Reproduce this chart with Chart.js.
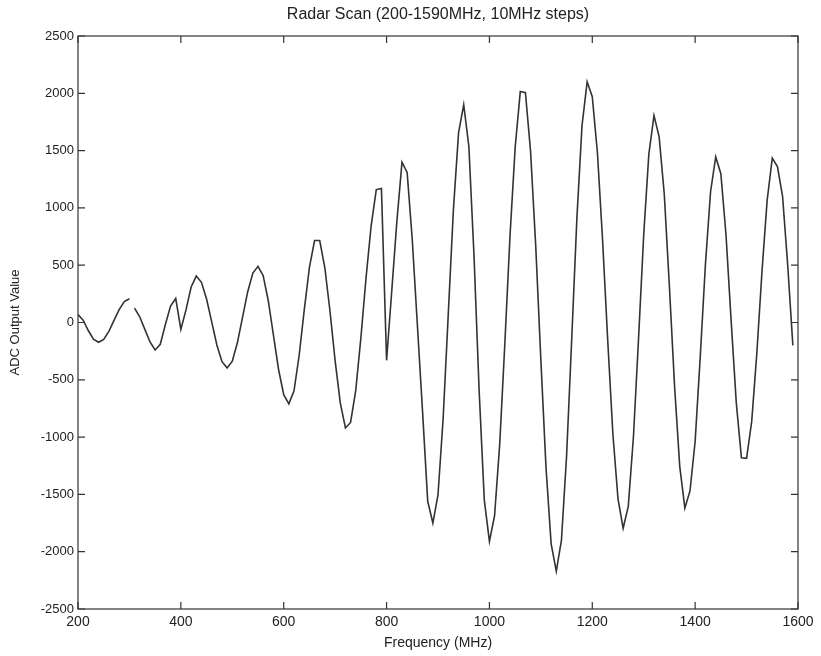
<!DOCTYPE html>
<html lang="en">
<head>
    <meta charset="UTF-8">
    <title>Radar Scan</title>
    <script src="https://cdn.jsdelivr.net/npm/chart.js"></script>
    <style>
        html, body { margin: 0; padding: 0; background: #fff; }
        #wrap { width: 821px; height: 656px; }
    </style>
</head>
<body>
    <div id="wrap"><canvas id="scanChart" width="821" height="656"></canvas></div>

    <script>
        // Scan frequencies (MHz), 10 MHz steps
        const freqs = [
            200, 210, 220, 230, 240, 250, 260, 270, 280, 290, 300, 310, 320, 330, 340, 350, 360, 370, 380, 390,
            400, 410, 420, 430, 440, 450, 460, 470, 480, 490, 500, 510, 520, 530, 540, 550, 560, 570, 580, 590,
            600, 610, 620, 630, 640, 650, 660, 670, 680, 690, 700, 710, 720, 730, 740, 750, 760, 770, 780, 790,
            800, 810, 820, 830, 840, 850, 860, 870, 880, 890, 900, 910, 920, 930, 940, 950, 960, 970, 980, 990,
            1000, 1010, 1020, 1030, 1040, 1050, 1060, 1070, 1080, 1090, 1100, 1110, 1120, 1130, 1140, 1150, 1160, 1170, 1180, 1190,
            1200, 1210, 1220, 1230, 1240, 1250, 1260, 1270, 1280, 1290, 1300, 1310, 1320, 1330, 1340, 1350, 1360, 1370, 1380, 1390,
            1400, 1410, 1420, 1430, 1440, 1450, 1460, 1470, 1480, 1490, 1500, 1510, 1520, 1530, 1540, 1550, 1560, 1570, 1580, 1590
        ];

        // ADC output, one row per 200 MHz
        const adcValues = [
            70, 20, -70, -145, -172, -147, -77, 18, 112, 182, 207, 125, 50, -60, -170, -240, -190, -15, 144, 210,
            -60, 110, 310, 405, 351, 205, 5, -196, -342, -396, -337, -175, 47, 269, 431, 490, 410, 190, -110, -410,
            -630, -710, -596, -288, 112, 481, 715, 715, 477, 98, -335, -702, -920, -872, -594, -136, 386, 844, 1160, 1170,
            -330, 270, 880, 1400, 1310, 720, -30, -780, -1560, -1750, -1505, -838, 75, 988, 1656, 1900, 1537, 585, -596, -1548,
            -1910, -1686, -1061, -181, 754, 1525, 2015, 2005, 1493, 670, -326, -1265, -1931, -2170, -1901, -1167, -146, 904, 1717, 2100,
            1971, 1481, 721, -155, -969, -1540, -1795, -1604, -999, -136, 766, 1471, 1805, 1620, 1119, 310, -555, -1253, -1620, -1470,
            -1036, -293, 508, 1141, 1445, 1298, 766, 14, -701, -1180, -1185, -863, -265, 447, 1066, 1435, 1360, 1100, 500, -200
        ];

        // the trace is broken between these two samples
        const gapFrom = [300];

        const xTicks = [200, 400, 600, 800, 1000, 1200, 1400, 1600];
        const yTicks = [-2500, -2000, -1500, -1000, -500, 0, 500, 1000, 1500, 2000, 2500];

        const ink = '#222';
        const font = 'Liberation Sans, Arial, Helvetica, sans-serif';

        // MATLAB-style box with inward ticks on all four sides
        const boxTicks = {
            id: 'boxTicks',
            afterDatasetsDraw(chart) {
                const { ctx, chartArea: a, scales: { x, y } } = chart;
                const len = 7;
                ctx.save();
                ctx.strokeStyle = '#333';
                ctx.lineWidth = 1.2;
                ctx.strokeRect(a.left, a.top, a.right - a.left, a.bottom - a.top);
                ctx.beginPath();
                x.ticks.forEach(t => {
                    const px = x.getPixelForValue(t.value);
                    ctx.moveTo(px, a.bottom); ctx.lineTo(px, a.bottom - len);
                    ctx.moveTo(px, a.top); ctx.lineTo(px, a.top + len);
                });
                y.ticks.forEach(t => {
                    const py = y.getPixelForValue(t.value);
                    ctx.moveTo(a.left, py); ctx.lineTo(a.left + len, py);
                    ctx.moveTo(a.right, py); ctx.lineTo(a.right - len, py);
                });
                ctx.stroke();
                ctx.restore();
            }
        };

        const points = freqs.map((f, i) => ({ x: f, y: adcValues[i] }));

        new Chart(document.getElementById('scanChart'), {
            type: 'line',
            data: {
                datasets: [{
                    label: 'ADC Output',
                    data: points,
                    borderColor: '#333',
                    borderWidth: 1.6,
                    pointRadius: 0,
                    tension: 0,
                    fill: false,
                    segment: {
                        borderColor: c => gapFrom.includes(c.p0.parsed.x) ? 'rgba(0,0,0,0)' : undefined
                    }
                }]
            },
            options: {
                responsive: false,
                animation: false,
                layout: { padding: { left: 4, right: 23, top: 0, bottom: 2 } },
                plugins: {
                    legend: { display: false },
                    tooltip: { enabled: false },
                    title: {
                        display: true,
                        text: 'Radar Scan (200-1590MHz, 10MHz steps)',
                        color: ink,
                        fullSize: false,
                        font: { family: font, size: 16, weight: 'normal' },
                        padding: { top: 5.4, bottom: 11.4 }
                    }
                },
                scales: {
                    x: {
                        type: 'linear',
                        min: 200,
                        max: 1600,
                        afterBuildTicks: s => { s.ticks = xTicks.map(v => ({ value: v })); },
                        afterFit: s => { s.height = 45; },
                        grid: { display: false, drawTicks: false },
                        border: { display: false },
                        ticks: {
                            color: ink,
                            padding: 5,
                            maxRotation: 0,
                            font: { family: font, size: 14 },
                            callback: v => String(v)
                        },
                        title: {
                            display: true,
                            text: 'Frequency (MHz)',
                            color: ink,
                            font: { family: font, size: 14 },
                            padding: { top: 0, bottom: 2 }
                        }
                    },
                    y: {
                        min: -2500,
                        max: 2500,
                        afterBuildTicks: s => { s.ticks = yTicks.map(v => ({ value: v })); },
                        afterFit: s => { s.width = 74; },
                        grid: { display: false, drawTicks: false },
                        border: { display: false },
                        ticks: {
                            color: ink,
                            padding: 4,
                            font: { family: font, size: 13 },
                            callback: v => String(v)
                        },
                        title: {
                            display: true,
                            text: 'ADC Output Value',
                            color: ink,
                            font: { family: font, size: 13 },
                            padding: { top: 4, bottom: 4 }
                        }
                    }
                }
            },
            plugins: [boxTicks]
        });
    </script>
</body>
</html>
